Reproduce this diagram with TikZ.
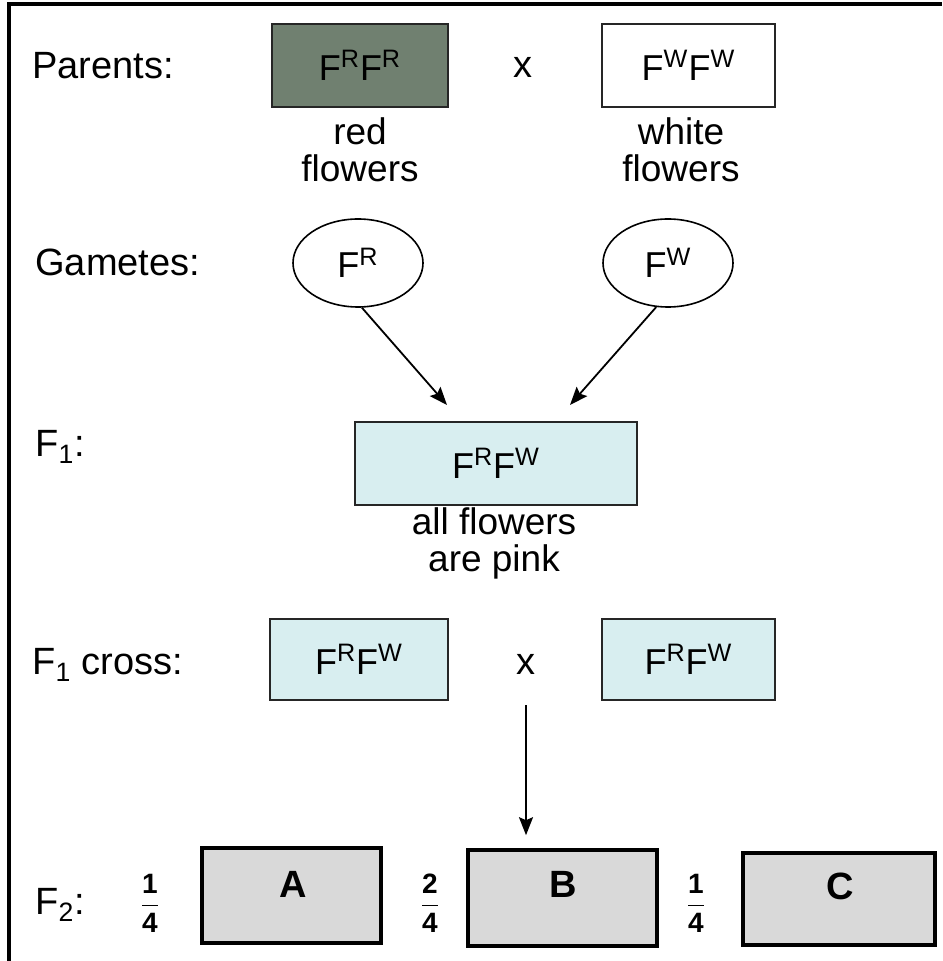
\documentclass[tikz,border=0pt]{standalone}
\usepackage{fontspec}
\setmainfont{Liberation Sans}
\usepackage{amsmath}
\usetikzlibrary{arrows.meta,shapes.geometric}

\definecolor{redfill}{RGB}{112,128,112}
\definecolor{pinkfill}{RGB}{216,238,240}
\definecolor{greyfill}{RGB}{217,217,217}

\tikzset{
  genebox/.style={shape=rectangle, draw=black!85, line width=0.9pt, inner sep=0pt, font=\fontsize{18}{18}\selectfont},
  gamete/.style={shape=ellipse, draw, line width=0.8pt, minimum width=65pt, minimum height=44pt, inner sep=0pt, font=\fontsize{18}{18}\selectfont},
  f2box/.style={shape=rectangle, draw, line width=1.8pt, fill=greyfill, inner sep=0pt},
  rowlabel/.style={anchor=west, inner sep=0pt, font=\fontsize{19}{19}\selectfont},
  caption/.style={align=center, inner sep=1pt, font=\fontsize{18.5}{18.5}\selectfont},
  cross/.style={font=\fontsize{19}{19}\selectfont},
  ratio/.style={inner sep=0pt, font=\fontsize{14}{14}\selectfont},
  boxletter/.style={font=\fontsize{19}{19}\bfseries\selectfont},
  arr/.style={-{Stealth[length=9pt,width=7pt,inset=1.5pt]}, line width=0.9pt}
}

\begin{document}
\begin{tikzpicture}[x=0.5pt, y=-0.5pt]
\useasboundingbox (0,0) rectangle (942,961);

\draw [line width=2.3pt] (9,961) -- (9,4) -- (942,4);

\node (Parents) at (32,66) [rowlabel] {Parents:};

\node (RedParent) at (360,65.5) [genebox, fill=redfill, minimum width=88pt, minimum height=41.5pt] {F\textsuperscript{R}F\textsuperscript{R}};

\node (ParentCross) at (523,67) [cross] {x};

\node (WhiteParent) at (688.5,65.5) [genebox, fill=white, minimum width=86.5pt, minimum height=41.5pt] {F\textsuperscript{W}F\textsuperscript{W}};

\node (RedText) at (360,150) [caption] {red\\flowers};

\node (WhiteText) at (681,150) [caption] {white\\flowers};

\node (Gametes) at (35,262) [rowlabel] {Gametes:};

\node (GameteR) at (358,263) [gamete] {F\textsuperscript{R}};

\node (GameteW) at (668,263) [gamete] {F\textsuperscript{W}};

\coordinate (TipR) at (447,405);

\coordinate (TipW) at (570,405);

\node (F1) at (35,447) [rowlabel] {F\textsubscript{1}:};

\node (Hybrid) at (496,463.5) [genebox, fill=pinkfill, minimum width=141pt, minimum height=41.5pt] {F\textsuperscript{R}F\textsuperscript{W}};

\node (PinkText) at (494,543) [caption] {all flowers\\are pink};

\node (F1Cross) at (32,665) [rowlabel] {F\textsubscript{1} cross:};

\node (HybridL) at (359,659.5) [genebox, fill=pinkfill, minimum width=89pt, minimum height=40.5pt] {F\textsuperscript{R}F\textsuperscript{W}};

\node (HybridCross) at (526,664) [cross] {x};

\node (HybridR) at (688.5,659.5) [genebox, fill=pinkfill, minimum width=86.5pt, minimum height=40.5pt] {F\textsuperscript{R}F\textsuperscript{W}};

\node (F2) at (35,905) [rowlabel] {F\textsubscript{2}:};

\node (RatioA) at (150,903) [ratio] {$\dfrac{\text{\bfseries 1}}{\text{\bfseries 4}}$};

\node (BoxA) at (291.5,895.5) [f2box, minimum width=89.5pt, minimum height=47.5pt] {};

\node (LetterA) at (293,884) [boxletter] {A};

\node (RatioB) at (430,903) [ratio] {$\dfrac{\text{\bfseries 2}}{\text{\bfseries 4}}$};

\node (BoxB) at (562.5,898) [f2box, minimum width=94.5pt, minimum height=48pt] {};

\node (LetterB) at (563,884) [boxletter] {B};

\node (RatioC) at (696,903) [ratio] {$\dfrac{\text{\bfseries 1}}{\text{\bfseries 4}}$};

\node (BoxC) at (839,899) [f2box, minimum width=96pt, minimum height=46pt] {};

\node (LetterC) at (840,886) [boxletter] {C};

\path [arr] (GameteR.-85) edge (TipR)
  (GameteW.-105) edge (TipW)
  (HybridCross.south) edge [shorten <=12pt, shorten >=6.5pt] (HybridCross.south |- BoxB.north);
\end{tikzpicture}
\end{document}
